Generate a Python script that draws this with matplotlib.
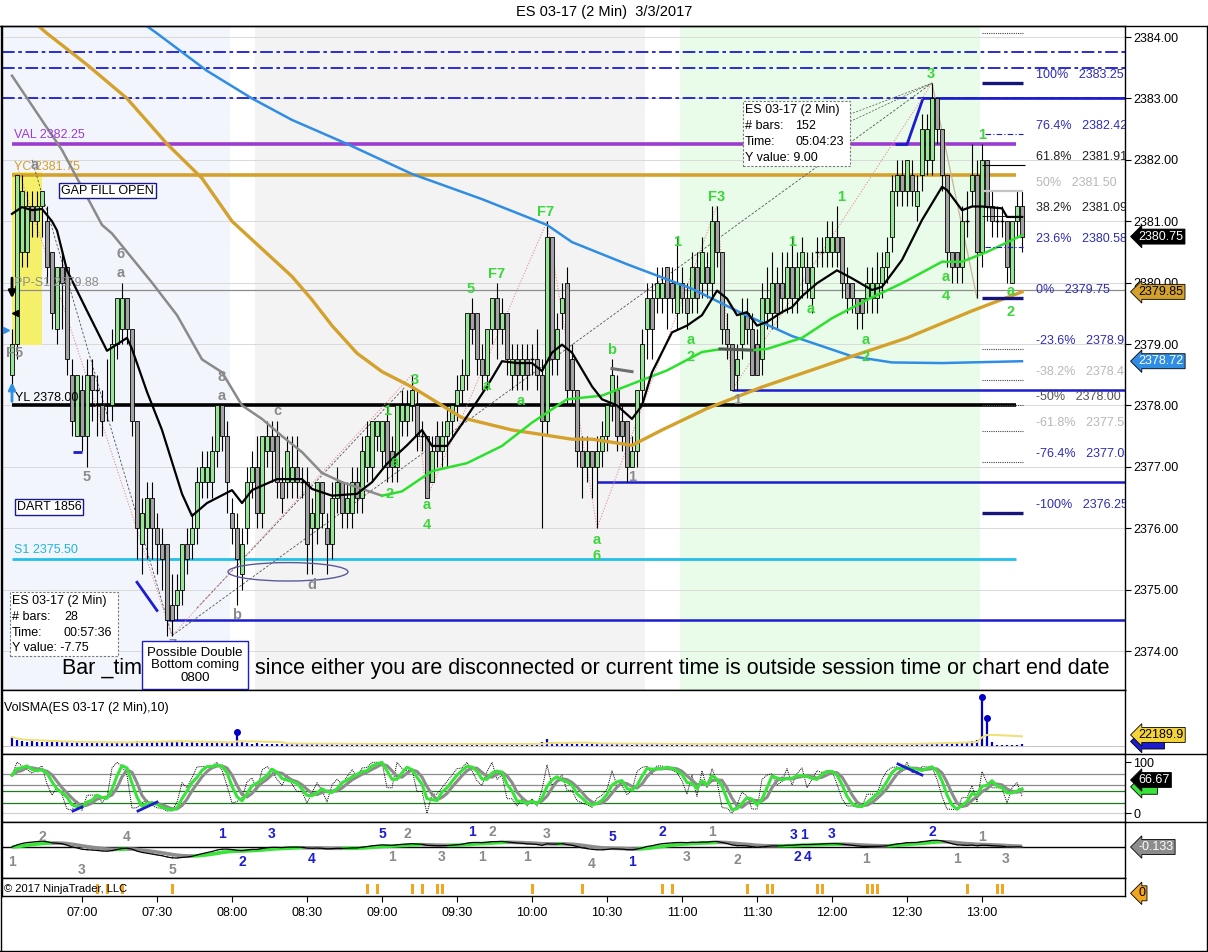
import numpy as np
import pandas as pd
import matplotlib
matplotlib.use("Agg")
import matplotlib.pyplot as plt
import matplotlib.transforms as mtransforms
from matplotlib.patches import Rectangle, Ellipse
from matplotlib.lines import Line2D
from matplotlib.collections import LineCollection

plt.rcParams['font.family'] = ['Liberation Sans', 'DejaVu Sans']

# === ES 03-17, 2 min bars, first bar 06:32, last 13:16 ===
opens = [
    2378.5, 2379.0, 2380.5, 2380.5, 2381.25, 2381.0, 2381.25, 2381.0, 2380.5, 2379.25,
    2380.25, 2380.25, 2378.5, 2377.5, 2378.25, 2377.5, 2378.5, 2378.25, 2378.0, 2378.0,
    2378.0, 2379.0, 2379.25, 2379.75, 2379.25, 2377.75, 2375.75, 2376.0, 2376.5, 2376.0,
    2375.75, 2375.75, 2374.75, 2374.75, 2375.0, 2375.75, 2375.75, 2376.0, 2376.75, 2376.75,
    2376.75, 2377.25, 2378.0, 2377.5, 2376.25, 2376.0, 2375.25, 2376.0, 2376.75, 2377.0,
    2376.25, 2377.25, 2377.5, 2377.5, 2376.75, 2376.75, 2376.75, 2377.0, 2376.75, 2376.75,
    2376.0, 2376.0, 2376.75, 2376.0, 2375.75, 2376.5, 2376.75, 2376.25, 2376.25, 2376.75,
    2376.5, 2377.0, 2377.0, 2377.5, 2377.25, 2377.75, 2377.25, 2377.0, 2377.75, 2377.75,
    2378.0, 2378.0, 2377.5, 2377.5, 2376.75, 2377.5, 2377.25, 2377.5, 2377.75, 2378.0,
    2378.25, 2378.5, 2379.5, 2379.5, 2378.75, 2378.5, 2379.25, 2379.75, 2379.25, 2379.5,
    2378.5, 2378.75, 2378.5, 2378.75, 2378.75, 2378.75, 2378.5, 2377.75, 2380.75, 2378.75,
    2379.5, 2380.0, 2378.75, 2378.25, 2377.25, 2377.0, 2377.25, 2377.0, 2377.25, 2377.5,
    2378.0, 2378.25, 2377.75, 2377.75, 2377.0, 2377.25, 2378.25, 2379.25, 2379.75, 2379.75,
    2379.75, 2380.25, 2380.0, 2379.5, 2380.0, 2379.75, 2379.75, 2380.25, 2380.0, 2380.25,
    2380.0, 2381.0, 2380.5, 2379.25, 2379.0, 2378.5, 2379.0, 2379.5, 2379.25, 2379.0,
    2378.75, 2379.5, 2379.5, 2380.0, 2380.0, 2379.75, 2380.25, 2379.75, 2380.25, 2380.25,
    2379.75, 2380.5, 2380.5, 2380.5, 2380.5, 2380.75, 2380.75, 2380.0, 2380.0, 2379.75,
    2379.75, 2379.75, 2379.75, 2379.75, 2380.0, 2380.25, 2380.75, 2381.5, 2381.75, 2381.5,
    2381.75, 2381.25, 2381.75, 2382.0, 2382.0, 2383.0, 2382.5, 2381.75, 2380.5, 2380.5,
    2380.25, 2381.0, 2381.5, 2381.75, 2380.5, 2382.0, 2381.25, 2381.0, 2381.0, 2381.0,
    2380.0, 2381.0, 2381.25]
highs = [
    2379.25, 2381.75, 2381.75, 2381.5, 2381.5, 2381.5, 2381.5, 2381.25, 2380.5, 2380.25,
    2380.5, 2380.25, 2378.75, 2378.5, 2378.5, 2378.75, 2378.75, 2378.5, 2378.25, 2378.75,
    2379.25, 2379.75, 2380.0, 2379.75, 2379.25, 2377.75, 2376.5, 2376.75, 2376.75, 2376.25,
    2376.0, 2375.75, 2375.25, 2375.25, 2375.75, 2376.0, 2376.25, 2377.0, 2377.25, 2377.25,
    2377.5, 2378.0, 2378.0, 2377.75, 2376.5, 2376.25, 2376.0, 2377.0, 2377.25, 2377.5,
    2377.5, 2377.75, 2377.75, 2377.75, 2377.0, 2377.5, 2377.5, 2377.5, 2377.0, 2377.0,
    2376.5, 2376.75, 2376.75, 2376.25, 2376.75, 2377.0, 2376.75, 2376.75, 2377.0, 2377.0,
    2377.5, 2377.75, 2377.75, 2377.75, 2377.75, 2378.0, 2377.5, 2378.0, 2378.25, 2378.25,
    2378.5, 2378.25, 2377.75, 2377.5, 2377.5, 2377.75, 2377.75, 2378.0, 2378.0, 2378.5,
    2378.75, 2379.5, 2379.75, 2379.5, 2379.0, 2379.25, 2379.75, 2380.0, 2379.75, 2379.5,
    2379.0, 2379.0, 2379.0, 2379.0, 2379.0, 2379.25, 2378.75, 2381.0, 2380.75, 2379.5,
    2380.0, 2380.25, 2379.0, 2378.25, 2377.5, 2377.5, 2377.25, 2377.5, 2377.75, 2378.0,
    2378.75, 2378.5, 2378.0, 2377.75, 2377.5, 2378.25, 2379.25, 2380.0, 2380.0, 2380.25,
    2380.25, 2380.25, 2380.25, 2380.75, 2380.25, 2380.0, 2380.5, 2380.5, 2380.75, 2380.5,
    2381.25, 2381.25, 2380.5, 2379.5, 2379.0, 2379.0, 2379.75, 2379.75, 2379.5, 2379.25,
    2380.0, 2380.25, 2380.5, 2380.25, 2380.5, 2380.5, 2380.75, 2380.5, 2380.75, 2380.5,
    2380.5, 2380.75, 2380.75, 2381.0, 2381.0, 2381.25, 2380.75, 2380.25, 2380.0, 2379.75,
    2379.75, 2380.25, 2380.25, 2380.5, 2380.5, 2380.75, 2381.75, 2382.0, 2382.0, 2382.0,
    2382.0, 2381.75, 2382.75, 2382.75, 2383.25, 2383.0, 2382.5, 2381.75, 2380.5, 2380.5,
    2381.25, 2381.5, 2382.25, 2382.0, 2382.25, 2382.0, 2381.5, 2381.25, 2381.25, 2381.0,
    2381.0, 2381.5, 2381.5]
lows = [
    2378.25, 2378.75, 2380.25, 2380.25, 2380.75, 2380.75, 2380.75, 2380.0, 2379.25, 2379.0,
    2379.25, 2378.5, 2377.5, 2377.5, 2377.25, 2377.0, 2377.75, 2377.5, 2377.5, 2377.75,
    2377.75, 2378.75, 2379.0, 2379.0, 2377.5, 2375.5, 2375.25, 2375.5, 2375.5, 2375.25,
    2375.0, 2374.25, 2374.25, 2374.5, 2374.75, 2375.25, 2375.5, 2375.75, 2376.5, 2376.5,
    2376.5, 2377.0, 2377.25, 2376.25, 2375.75, 2374.75, 2375.0, 2375.75, 2376.5, 2376.0,
    2376.0, 2377.0, 2376.75, 2376.5, 2376.25, 2376.5, 2376.5, 2376.5, 2376.5, 2375.25,
    2375.25, 2375.75, 2376.0, 2375.25, 2375.5, 2376.25, 2376.0, 2376.0, 2376.0, 2376.25,
    2376.25, 2376.75, 2376.75, 2377.25, 2377.0, 2376.75, 2376.75, 2376.75, 2377.5, 2377.5,
    2377.75, 2377.25, 2377.25, 2376.5, 2376.75, 2377.0, 2377.0, 2377.0, 2377.5, 2377.75,
    2378.0, 2378.25, 2379.0, 2378.5, 2378.25, 2378.25, 2379.0, 2378.75, 2379.0, 2378.5,
    2378.25, 2378.25, 2378.25, 2378.25, 2378.5, 2378.25, 2376.0, 2377.5, 2378.5, 2378.5,
    2379.25, 2378.0, 2378.0, 2377.0, 2376.5, 2376.75, 2376.5, 2376.0, 2377.0, 2377.25,
    2377.75, 2377.25, 2377.25, 2376.75, 2377.0, 2377.0, 2378.0, 2378.75, 2378.75, 2379.5,
    2379.5, 2379.25, 2379.5, 2379.25, 2379.5, 2379.25, 2379.5, 2379.5, 2379.75, 2379.75,
    2379.75, 2380.25, 2379.0, 2378.75, 2378.25, 2378.25, 2378.75, 2379.0, 2378.5, 2378.5,
    2378.5, 2379.25, 2379.25, 2379.25, 2379.5, 2379.5, 2379.5, 2379.5, 2379.75, 2379.75,
    2379.5, 2380.25, 2380.25, 2380.25, 2380.25, 2380.25, 2379.75, 2379.5, 2379.5, 2379.25,
    2379.25, 2379.5, 2379.5, 2379.5, 2379.75, 2380.0, 2380.5, 2381.25, 2381.25, 2381.25,
    2381.25, 2381.0, 2381.5, 2381.75, 2381.75, 2382.25, 2381.5, 2380.25, 2380.0, 2380.0,
    2380.0, 2380.75, 2381.25, 2379.75, 2380.25, 2381.0, 2380.75, 2380.75, 2380.75, 2380.0,
    2380.0, 2380.75, 2380.5]
closes = [
    2379.0, 2381.75, 2381.5, 2381.25, 2381.0, 2381.25, 2381.5, 2380.25, 2379.5, 2380.25,
    2380.0, 2378.75, 2377.75, 2378.5, 2377.5, 2378.5, 2378.25, 2378.25, 2377.75, 2378.0,
    2379.0, 2379.75, 2379.75, 2379.25, 2377.75, 2376.0, 2376.25, 2376.5, 2376.0, 2375.75,
    2375.5, 2374.5, 2374.5, 2375.0, 2375.75, 2375.5, 2376.0, 2376.75, 2377.0, 2377.0,
    2377.25, 2378.0, 2377.5, 2376.75, 2376.0, 2375.5, 2375.75, 2376.75, 2377.0, 2376.25,
    2377.5, 2377.5, 2377.25, 2376.75, 2376.5, 2377.25, 2377.0, 2376.75, 2376.75, 2375.75,
    2376.25, 2376.75, 2376.25, 2375.75, 2376.5, 2376.75, 2376.25, 2376.5, 2376.75, 2376.5,
    2377.25, 2377.5, 2377.75, 2377.75, 2377.75, 2377.0, 2377.0, 2378.0, 2378.0, 2378.0,
    2378.25, 2377.5, 2377.5, 2376.5, 2377.25, 2377.25, 2377.5, 2377.75, 2378.0, 2378.25,
    2378.5, 2379.5, 2379.25, 2378.75, 2378.5, 2379.25, 2379.75, 2379.25, 2379.5, 2378.75,
    2378.75, 2378.5, 2378.75, 2378.5, 2378.75, 2378.5, 2377.75, 2380.75, 2378.75, 2379.25,
    2379.75, 2378.25, 2378.25, 2377.25, 2377.0, 2377.25, 2377.0, 2377.25, 2377.5, 2378.0,
    2378.5, 2377.5, 2377.5, 2377.0, 2377.25, 2378.25, 2379.0, 2379.75, 2379.25, 2380.0,
    2380.0, 2379.75, 2379.75, 2380.0, 2379.75, 2379.5, 2380.25, 2379.75, 2380.5, 2380.0,
    2381.0, 2380.5, 2379.25, 2379.0, 2378.25, 2378.75, 2379.5, 2379.25, 2378.5, 2378.5,
    2379.75, 2379.75, 2380.0, 2379.5, 2379.75, 2380.25, 2379.75, 2380.25, 2380.5, 2380.0,
    2380.25, 2380.5, 2380.5, 2380.75, 2380.75, 2380.5, 2380.0, 2379.75, 2379.75, 2379.5,
    2379.5, 2380.0, 2380.0, 2380.0, 2380.25, 2380.5, 2381.5, 2381.75, 2381.5, 2382.0,
    2381.5, 2381.5, 2382.5, 2382.5, 2383.0, 2382.5, 2381.75, 2380.5, 2380.25, 2380.25,
    2381.0, 2381.0, 2381.75, 2380.5, 2382.0, 2381.25, 2381.0, 2381.0, 2381.0, 2380.25,
    2381.0, 2381.25, 2380.75]
# volume in thousands of contracts
volume_k = [
    18, 12, 10, 9, 10, 8, 9, 8, 9, 8,
    8, 9, 7, 8, 7, 8, 7, 6, 8, 7,
    7, 8, 7, 6, 9, 10, 11, 9, 8, 9,
    10, 9, 11, 8, 9, 7, 8, 6, 7, 8,
    7, 8, 7, 6, 8, 28, 8, 6, 5, 6,
    5, 4, 5, 4, 5, 4, 4, 5, 4, 5,
    5, 4, 4, 5, 4, 3, 4, 5, 4, 4,
    4, 5, 4, 3, 4, 5, 4, 4, 5, 4,
    4, 3, 4, 4, 5, 4, 3, 4, 4, 5,
    4, 5, 4, 4, 3, 4, 5, 4, 4, 4,
    3, 4, 4, 3, 4, 5, 9, 14, 8, 6,
    5, 6, 5, 5, 4, 5, 4, 6, 5, 4,
    4, 5, 4, 4, 3, 5, 5, 6, 4, 4,
    4, 3, 4, 4, 3, 4, 4, 3, 4, 4,
    5, 4, 4, 3, 4, 3, 4, 3, 4, 3,
    4, 4, 3, 4, 3, 4, 3, 4, 3, 4,
    3, 4, 3, 4, 3, 4, 4, 3, 4, 3,
    4, 3, 4, 3, 4, 3, 4, 5, 4, 5,
    4, 5, 6, 7, 6, 7, 6, 7, 8, 7,
    8, 9, 10, 12, 98, 56, 8, 3, 3, 3,
    3, 3, 4]

# moving averages (bar index, price)
black_bar = [0, 2, 4, 6, 8, 9, 11, 15, 19, 23, 24, 27, 30, 34, 36, 39, 44, 46, 48, 53,
             56, 58, 60, 64, 69, 72, 75, 79, 82, 84, 87, 91, 95, 98, 101, 104, 106, 108,
             110, 112, 116, 118, 121, 124, 126, 128, 132, 135, 138, 141, 143, 145, 147,
             149, 151, 154, 156, 158, 161, 165, 168, 172, 174, 178, 182, 186, 187, 190,
             192, 194, 198, 199, 202]
black_px = [2381.12, 2381.23, 2381.18, 2381.2, 2381.0, 2380.85, 2380.2, 2379.54, 2378.89,
            2379.1, 2378.92, 2378.22, 2377.6, 2376.56, 2376.2, 2376.41, 2376.62, 2376.41,
            2376.62, 2376.8, 2376.8, 2376.8, 2376.64, 2376.53, 2376.56, 2376.75, 2377.05,
            2377.35, 2377.6, 2377.34, 2377.34, 2377.82, 2378.31, 2378.72, 2378.69, 2378.69,
            2378.56, 2378.86, 2378.99, 2378.86, 2378.31, 2378.1, 2378.0, 2377.78, 2378.0,
            2378.54, 2379.19, 2379.3, 2379.47, 2379.87, 2379.74, 2379.47, 2379.52, 2379.3,
            2379.36, 2379.52, 2379.6, 2379.78, 2379.99, 2380.2, 2380.07, 2379.88, 2379.93,
            2380.37, 2381.02, 2381.56, 2381.51, 2381.18, 2381.24, 2381.24, 2381.21, 2381.07,
            2381.07]
gray_ma_bar = [0, 8, 10, 18, 20, 28, 33, 38, 42, 46, 50, 54, 58, 62, 66, 70, 74]
gray_ma_px = [2383.37, 2382.4, 2382.16, 2380.94, 2380.8, 2380.0, 2379.47, 2378.75, 2378.54,
              2378.0, 2377.78, 2377.5, 2377.24, 2376.9, 2376.75, 2376.64, 2376.53]
green_ma_bar = [74, 78, 84, 91, 98, 104, 111, 118, 124, 131, 138, 142, 148, 151, 158, 164,
                171, 178, 186, 190, 195, 202]
green_ma_px = [2376.53, 2376.6, 2376.93, 2377.06, 2377.34, 2377.72, 2378.1, 2378.16, 2378.35,
               2378.57, 2378.87, 2378.92, 2378.9, 2378.92, 2379.1, 2379.42, 2379.72, 2379.99,
               2380.34, 2380.34, 2380.5, 2380.77]
orange_bar = [0, 7, 15, 23, 31, 38, 44, 50, 56, 60, 64, 69, 74, 80, 90, 100, 112, 116, 124,
              130, 139, 150, 168, 179, 192, 202]
orange_px = [2384.55, 2384.06, 2383.55, 2383.0, 2382.26, 2381.7, 2381.0, 2380.55, 2380.1,
             2379.72, 2379.3, 2378.85, 2378.55, 2378.3, 2377.8, 2377.6, 2377.45, 2377.45,
             2377.35, 2377.6, 2377.95, 2378.3, 2378.8, 2379.1, 2379.54, 2379.85]
blue_bar = [18, 29, 39, 48, 56, 67, 80, 94, 107, 112, 123, 136, 146, 156, 168, 176, 186, 202]
blue_px = [2384.7, 2384.06, 2383.45, 2383.0, 2382.65, 2382.26, 2381.77, 2381.36, 2380.94,
           2380.66, 2380.3, 2379.9, 2379.5, 2379.13, 2378.8, 2378.7, 2378.69, 2378.72]

# fib retracement on the right
fib_pct = ['100%', '76.4%', '61.8%', '50%', '38.2%', '23.6%', '0%', '-23.6%', '-38.2%',
           '-50%', '-61.8%', '-76.4%', '-100%']
fib_val = [2383.25, 2382.42, 2381.91, 2381.50, 2381.09, 2380.58, 2379.75, 2378.92, 2378.41,
           2378.00, 2377.59, 2377.08, 2376.25]

tick_bars = [14, 29, 44, 59, 74, 89, 104, 119, 134, 149, 164, 179, 194]
tick_labels = ['07:00', '07:30', '08:00', '08:30', '09:00', '09:30', '10:00', '10:30',
               '11:00', '11:30', '12:00', '12:30', '13:00']
signal_bars = [17, 19, 22, 32, 71, 73, 80, 82, 85, 86, 104, 114, 130, 132, 147, 151, 152,
               161, 162, 171, 172, 173, 191, 197, 198]

o = np.array(opens); h = np.array(highs); l = np.array(lows); c = np.array(closes)
n = len(c)
idx = np.arange(n)

# === figure layout, pixel based ===
W, H = 1208, 952
fig = plt.figure(figsize=(W / 100, H / 100), dpi=100)
def fx(px): return px / W
def fy(py): return 1 - py / H
LEFT, RIGHT = 2, 1125
def panel(top, bottom):
    a = fig.add_axes([fx(LEFT), fy(bottom), fx(RIGHT) - fx(LEFT), fy(top) - fy(bottom)])
    a.set_xlim(-2, 222.6)
    a.tick_params(left=False, bottom=False, labelleft=False, labelbottom=False)
    for s in a.spines.values():
        s.set_linewidth(1.0)
    return a

ax = panel(26, 690)
axv = panel(690, 754)
axs = panel(754, 822)
axm = panel(822, 878)
axo = panel(878, 896)

fig.text(0.5, fy(12), 'ES 03-17 (2 Min)  3/3/2017', ha='center', va='center', fontsize=10.5)

GREEN_TXT = '#3ad63a'
GRAY_TXT = '#8a8a8a'
BLUE = '#1c1cd0'
HIDDEN = '       '   # flag partly covered by the one drawn on top of it

# === main price panel ===
ax.set_ylim(2373.365, 2384.18)
ax.axvspan(-2, 43.6, color='#f2f5fc', zorder=0, lw=0)
ax.axvspan(48.6, 126.6, color='#f3f3f3', zorder=0, lw=0)
ax.axvspan(133.6, 193.6, color='#e9fbe9', zorder=0, lw=0)
for v in range(2374, 2385):
    ax.axhline(v, color='#d9d9d9', lw=0.7, zorder=0.5)
ax.add_patch(Rectangle((0, 2378.98), 6, 2381.80 - 2378.98, fc='#f5f06a', ec='none', zorder=1))

for v in [2383.76, 2383.5, 2383.0]:
    ax.axhline(v, color=BLUE, lw=1.3, ls=(0, (7, 2, 2, 2)), zorder=2)
ax.hlines(2382.25, 0, 200.8, color='#9a3ccf', lw=2.6, zorder=2)
ax.hlines(2381.75, 0, 200.8, color='#d4a22c', lw=2.6, zorder=2)
ax.axhline(2379.88, color='#8c8c8c', lw=0.9, zorder=2)
ax.hlines(2378.0, 0, 200.8, color='black', lw=2.6, zorder=2)
ax.hlines(2375.5, 0, 200.8, color='#22c0ea', lw=2.0, zorder=2)
ax.hlines(2374.5, 31.2, 222.6, color=BLUE, lw=1.8, zorder=2)
ax.hlines(2376.75, 117, 222.6, color=BLUE, lw=1.8, zorder=2)
ax.hlines(2378.25, 144, 222.6, color=BLUE, lw=1.8, zorder=2)
ax.plot([177, 179, 182.2, 222.6], [2382.25, 2382.25, 2383.0, 2383.0], color=BLUE, lw=2.0, zorder=2)

ax.text(0.4, 2382.40, 'VAL 2382.25', color='#9a3ccf', fontsize=9, va='center', zorder=6)
ax.text(0.4, 2381.88, 'YC 2381.75', color='#d4a22c', fontsize=9, va='center', zorder=3.5)
ax.text(0.4, 2380.00, 'PP-S1 2379.88', color='#8c8c8c', fontsize=9, va='center', zorder=6)
ax.text(0.6, 2378.12, 'YL 2378.00', color='black', fontsize=9, va='center', zorder=6)
ax.text(0.4, 2375.64, 'S1 2375.50', color='#22b5e0', fontsize=9, va='center', zorder=6)
ax.text(19.1, 2381.5, 'GAP FILL OPEN', fontsize=9, ha='center', va='center', zorder=6,
        bbox=dict(boxstyle='square,pad=0.15', fc='white', ec='#1a1a90', lw=1))
ax.text(7.4, 2376.34, 'DART 1856', fontsize=9, ha='center', va='center', zorder=6,
        bbox=dict(boxstyle='square,pad=0.15', fc='white', ec='#1a1a90', lw=1))

# measuring / wave lines
ax.plot([4, 32], [2382.0, 2374.25], color='#555555', lw=0.6, ls=(0, (3, 2)), zorder=2.5)
ax.plot([32, 184], [2374.25, 2383.25], color='#555555', lw=0.6, ls=(0, (3, 2)), zorder=2.5)
ax.plot([37, 78.6], [2374.7, 2378.3], color='#555555', lw=0.6, ls=(0, (3, 2)), zorder=2.5)
pink_bar = [1, 32, 80, 83, 107, 117, 141, 144, 184]
pink_px = [2381.9, 2374.25, 2378.5, 2376.5, 2381.0, 2376.0, 2381.25, 2378.25, 2383.25]
ax.plot(pink_bar, pink_px, color='#e79090', lw=0.8, ls=(0, (1, 1.5)), zorder=2.5)
ax.plot([184, 193], [2383.25, 2379.75], color='#c9b39a', lw=0.9, zorder=2.5)
ax.plot([150, 184], [2382.2, 2383.25], color='#555555', lw=0.5, ls=(0, (3, 2)), zorder=2.5)
ax.plot([150, 184], [2381.95, 2383.25], color='#555555', lw=0.5, ls=(0, (3, 2)), zorder=2.5)

# candles
ax.vlines(idx, l, h, color='black', lw=0.8, zorder=3)
up = c > o
dn = c < o
fl = c == o
ax.bar(idx[up], (c - o)[up], bottom=o[up], width=0.8, color='#97e497', edgecolor='black',
       linewidth=0.6, zorder=4)
ax.bar(idx[dn], (o - c)[dn], bottom=c[dn], width=0.8, color='#a2a2a2', edgecolor='black',
       linewidth=0.6, zorder=4)
ax.hlines(c[fl], idx[fl] - 0.45, idx[fl] + 0.45, color='black', lw=1.0, zorder=4)

# moving averages
ax.plot(blue_bar, blue_px, color='#2f8de4', lw=1.8, zorder=5)
ax.plot(orange_bar, orange_px, color='#d4a22c', lw=2.4, zorder=5)
ax.plot(gray_ma_bar, gray_ma_px, color='#8a8a8a', lw=1.8, zorder=5)
ax.plot(green_ma_bar, green_ma_px, color='#2ee02e', lw=1.8, zorder=5)
ax.plot(black_bar, black_px, color='black', lw=1.6, zorder=5)
ax.plot([120, 124], [2378.6, 2378.55], color='#707070', lw=2.2, zorder=5)
ax.plot([141.6, 148], [2378.92, 2378.9], color='#555555', lw=2.2, zorder=5)
ax.hlines(2377.24, 12.2, 14, color=BLUE, lw=2, zorder=5)
ax.plot([25, 29], [2375.12, 2374.66], color=BLUE, lw=2, zorder=5)

# markers at the open
ax.annotate('', xy=(0, 2379.7), xytext=(0, 2380.12),
            arrowprops=dict(arrowstyle='-|>', color='black', lw=2, mutation_scale=10), zorder=6)
ax.annotate('', xy=(0, 2378.42), xytext=(0, 2378.02),
            arrowprops=dict(arrowstyle='-|>', color='#2f8de4', lw=2, mutation_scale=10), zorder=6)
ax.plot([0.6], [2379.5], marker='<', color='black', ms=4, zorder=6)
ax.plot([-1.2], [2379.23], marker='>', color='#2f8de4', ms=5, zorder=6, clip_on=False)

ax.add_patch(Ellipse((55.2, 2375.29), 24, 0.3, fill=False, ec='#5a5a9a', lw=1, zorder=6))

# wave labels
gray_labels = [('F5', 0.6, 2378.85), ('a', 4.6, 2381.92), ('6', 21.8, 2380.47), ('a', 21.8, 2380.16),
               ('5', 15, 2376.83), ('8', 42, 2378.46), ('a', 42, 2378.15), ('c', 53, 2377.91),
               ('b', 45, 2374.59), ('d', 60, 2375.08), ('7', 32, 2374.1), ('1', 124, 2376.83),
               ('1', 145, 2378.09)]
for t, xb, yp in gray_labels:
    ax.text(xb, yp, t, color=GRAY_TXT, fontsize=10.5, fontweight='bold', ha='center',
            va='center', zorder=6)
green_labels = [('1', 75, 2377.91), ('3', 80.6, 2378.41), ('a', 76.6, 2377.08), ('2', 75.6, 2376.56),
                ('a', 83, 2376.38), ('4', 83, 2376.05), ('5', 91.8, 2379.9), ('F7', 97, 2380.14),
                ('a', 95, 2378.32), ('a', 101.8, 2378.07), ('F7', 106.8, 2381.15),
                ('b', 120, 2378.9), ('a', 117, 2375.81), ('6', 117, 2375.55), ('1', 133, 2380.66),
                ('F3', 141, 2381.39), ('a', 135.8, 2379.07), ('2', 135.8, 2378.79),
                ('1', 156, 2380.66), ('a', 159.8, 2379.57), ('1', 165.8, 2381.39),
                ('a', 170.8, 2379.07), ('2', 170.8, 2378.79), ('3', 183.8, 2383.4),
                ('a', 186.8, 2380.09), ('4', 186.8, 2379.78), ('1', 194, 2382.4),
                ('a', 199.8, 2379.86), ('2', 199.8, 2379.52)]
for t, xb, yp in green_labels:
    ax.text(xb, yp, t, color=GREEN_TXT, fontsize=10.5, fontweight='bold', ha='center',
            va='center', zorder=6)

# fib levels
fib_color = {'100%': '#2d2db4', '76.4%': '#2d2db4', '61.8%': '#222222', '50%': '#b8b8b8',
             '38.2%': '#222222', '23.6%': '#2d2db4', '0%': '#2d2db4', '-23.6%': '#2d2db4',
             '-38.2%': '#b8b8b8', '-50%': '#555555', '-61.8%': '#b8b8b8', '-76.4%': '#2d2db4',
             '-100%': '#2d2db4'}
for p, v in zip(fib_pct, fib_val):
    if p in ('100%', '0%', '-100%'):
        ax.hlines(v, 194, 202.2, color='#14147a', lw=2.4, zorder=5)
    elif p in ('76.4%', '23.6%'):
        ax.hlines(v, 194.6, 202.2, color=BLUE, lw=0.8, ls=(0, (5, 2, 1, 2)), zorder=5)
    elif p == '61.8%':
        ax.hlines(v, 194, 202.6, color='black', lw=0.8, zorder=5)
    elif p == '50%':
        ax.hlines(v, 194, 202.2, color='#c4c4c4', lw=1.6, zorder=5)
    elif p == '38.2%':
        ax.hlines(v, 194, 202.2, color='black', lw=0.6, zorder=5)
    else:
        ax.hlines(v, 194, 202.2, color='#444444', lw=0.8, ls=(0, (1, 1)), zorder=5)
    ax.text(204.8, v + 0.13, f'{p}   {v:.2f}', color=fib_color[p], fontsize=9, va='center',
            ha='left', zorder=6, clip_on=True)
ax.hlines(2384.07, 194, 202.2, color='#444444', lw=0.8, ls=(0, (1, 1)), zorder=5)

# info boxes
ax.add_patch(Rectangle((-0.4, 2373.92), 21.6, 1.04, fc='white', ec='#777777', lw=0.8,
                       ls=(0, (2, 1.5)), zorder=6))
for r, (a1, a2) in enumerate([('ES 03-17 (2 Min)', ''), ('# bars:', '28'), ('Time:', '00:57:36'),
                               ('Y value: -7.75', '')]):
    yy = 2374.81 - 0.255 * r
    ax.text(0.0, yy, a1, fontsize=9, va='center', zorder=7)
    ax.text(10.4, yy, a2, fontsize=9, va='center', zorder=7)
ax.add_patch(Rectangle((146.2, 2381.90), 21.4, 1.06, fc='white', ec='#777777', lw=0.8,
                       ls=(0, (2, 1.5)), zorder=6))
for r, (a1, a2) in enumerate([('ES 03-17 (2 Min)', ''), ('# bars:', '152'), ('Time:', '05:04:23'),
                               ('Y value: 9.00', '')]):
    yy = 2382.81 - 0.26 * r
    ax.text(146.6, yy, a1, fontsize=9, va='center', zorder=7)
    ax.text(156.6, yy, a2, fontsize=9, va='center', zorder=7)

ax.text(10, 2373.72, 'Bar _tim', fontsize=15.5, va='center', zorder=7)
ax.text(48.6, 2373.72,
        'since either you are disconnected or current time is outside session time or chart end date',
        fontsize=15.5, va='center', zorder=7)
ax.text(36.6, 2374.07, 'Possible Double\nBottom coming\n0800', fontsize=9.5, ha='center', va='top',
        linespacing=1.05, zorder=8, clip_on=True,
        bbox=dict(boxstyle='square,pad=0.4', fc='white', ec=BLUE, lw=1))

ax.yaxis.tick_right()
ax.tick_params(axis='y', right=True, labelright=True, length=4, width=0.8, labelsize=9, pad=2)
ax.set_yticks(range(2374, 2385))
ax.set_yticklabels([f'{v:.2f}' for v in range(2374, 2385)])
bl = mtransforms.blended_transform_factory(ax.transAxes, ax.transData)
for val, txt, bg, fg in [(2380.75, '2380.75', 'black', 'white'), (2379.85, '2379.85', '#d4a22c', 'black'),
                         (2378.72, '2378.72', '#2f8de4', 'white')]:
    ax.text(1.012, val, txt, transform=bl, fontsize=9, color=fg, va='center', ha='left', zorder=9,
            clip_on=False, bbox=dict(boxstyle='larrow,pad=0.12', fc=bg, ec='black', lw=0.6))

# === volume panel ===
vol = np.array(volume_k, dtype=float)
volsma = pd.Series(vol).rolling(10, min_periods=1).mean()
axv.set_ylim(-16, 112)
axv.axhline(0, color='#c8c8c8', lw=0.8)
axv.vlines(idx, 0, vol, color='#0000c8', lw=1.6)
axv.plot(idx, volsma, color='#efe07a', lw=1.5)
big = [45, 194, 195]
axv.plot(big, vol[big], 'o', color='#0000c8', ms=4)
axv.text(2 / 1123, 0.72, 'VolSMA(ES 03-17 (2 Min),10)', transform=axv.transAxes, fontsize=9,
         va='center')
blv = mtransforms.blended_transform_factory(axv.transAxes, axv.transData)
axv.text(1.012, 9.0, HIDDEN, transform=blv, fontsize=9, va='center', ha='left',
         clip_on=False, bbox=dict(boxstyle='larrow,pad=0.12', fc='#1c1cd0', ec='black', lw=0.6))
axv.text(1.012, 22.19, '22189.9', transform=blv, fontsize=9, color='black', va='center', ha='left',
         clip_on=False, bbox=dict(boxstyle='larrow,pad=0.12', fc='#f5d33a', ec='black', lw=0.6))

# === stochastics panel ===
cs = pd.Series(c)
hh = pd.Series(h).rolling(9, min_periods=1).max()
ll = pd.Series(l).rolling(9, min_periods=1).min()
fastk = (100 * (cs - ll) / (hh - ll)).fillna(50)
k_line = fastk.rolling(3, min_periods=1).mean()
d_line = k_line.rolling(3, min_periods=1).mean()
axs.set_ylim(-17.1, 116.3)
for v, col in [(77, '#8c8c8c'), (56, '#8c8c8c'), (44, '#1f7a1f'), (20, '#1f7a1f'), (0, '#d0d0d0')]:
    axs.axhline(v, color=col, lw=0.9)
axs.plot(idx, fastk, color='black', lw=0.7, ls=(0, (1, 1)))
axs.plot(idx, d_line, color='#8c8c8c', lw=2.2)
axs.plot(idx, k_line, color='#39e339', lw=2.2)
axs.plot([12.2, 14], [4.5, 12.4], color=BLUE, lw=2)
axs.plot([25.2, 29], [4.5, 22], color=BLUE, lw=2)
axs.plot([177.2, 182], [96.7, 75], color=BLUE, lw=2)
axs.yaxis.tick_right()
axs.tick_params(axis='y', right=True, labelright=True, length=4, width=0.8, labelsize=9, pad=2)
axs.set_yticks([0, 100])
axs.set_yticklabels(['0', '100'])
bls = mtransforms.blended_transform_factory(axs.transAxes, axs.transData)
axs.text(1.012, 52, HIDDEN[:5], transform=bls, fontsize=9, va='center', ha='left',
         clip_on=False, bbox=dict(boxstyle='larrow,pad=0.12', fc='#39e339', ec='black', lw=0.6))
axs.text(1.012, 65.3, '66.67', transform=bls, fontsize=9, color='white', va='center', ha='left',
         clip_on=False, bbox=dict(boxstyle='larrow,pad=0.12', fc='black', ec='black', lw=0.6))

# === MACD panel ===
ema12 = cs.ewm(span=12, adjust=False).mean()
ema26 = cs.ewm(span=26, adjust=False).mean()
macd = (ema12 - ema26).values
sig = pd.Series(macd).ewm(span=9, adjust=False).mean().values
unit = np.abs(macd).max() / 11.0
axm.set_ylim(-31 * unit, 25 * unit)
axm.axhline(0, color='black', lw=1.0)
hcol = np.where(macd > sig, '#39e339', '#8c8c8c')
axm.vlines(idx, sig, macd, colors=hcol, lw=1.0)
pts = np.column_stack([idx, sig])
segs = np.stack([pts[:-1], pts[1:]], axis=1)
scol = np.where(np.diff(sig) >= 0, '#39e339', '#8c8c8c')
axm.add_collection(LineCollection(segs, colors=scol, linewidths=2.6))
axm.plot(idx, macd, color='black', lw=0.9)
macd_lab_bar = [0, 6, 14, 23, 32, 42, 46, 52, 60, 74, 76, 79, 86, 92, 94, 96, 103, 107, 116, 120,
                124, 130, 135, 140, 145, 156.4, 158.4, 164, 157, 159.2, 170.8, 184, 189, 194, 198.8]
macd_lab_y = [0.286, 0.732, 0.143, 0.732, 0.143, 0.786, 0.286, 0.786, 0.339, 0.786, 0.375, 0.786,
              0.375, 0.821, 0.375, 0.821, 0.375, 0.786, 0.25, 0.732, 0.286, 0.821, 0.375, 0.821,
              0.321, 0.768, 0.768, 0.786, 0.375, 0.375, 0.339, 0.821, 0.339, 0.732, 0.339]
macd_lab_txt = '12345123451231121345123123132412113'
macd_lab_blue = [0, 0, 0, 0, 0, 1, 1, 1, 1, 1, 0, 0, 0, 1, 0, 0, 0, 0, 0, 1,
                 1, 1, 0, 0, 0, 1, 1, 1, 1, 1, 0, 1, 0, 0, 0]
blm = mtransforms.blended_transform_factory(axm.transData, axm.transAxes)
for xb, yf, t, isb in zip(macd_lab_bar, macd_lab_y, macd_lab_txt, macd_lab_blue):
    axm.text(xb, yf, t, transform=blm, fontsize=10, fontweight='bold', ha='center', va='center',
             color=BLUE if isb else GRAY_TXT)
blm2 = mtransforms.blended_transform_factory(axm.transAxes, axm.transData)
axm.text(1.012, macd[-1], '-0.133', transform=blm2, fontsize=9, color='white', va='center',
         ha='left', clip_on=False, bbox=dict(boxstyle='larrow,pad=0.12', fc='#8c8c8c', ec='black', lw=0.6))

# === signal strip + time axis ===
axo.set_ylim(0, 1)
axo.bar(signal_bars, 0.56, bottom=0.11, width=0.6, color='#f2a51f')
axo.text(2 / 1123, 0.39, '\u00a9 2017 NinjaTrader, LLC', transform=axo.transAxes, fontsize=8,
         va='center')
axo.text(1.012, 0.15, '0', transform=axo.transAxes, fontsize=9, color='black', va='center',
         ha='left', clip_on=False, bbox=dict(boxstyle='larrow,pad=0.12', fc='#f2a51f', ec='black', lw=0.6))
axo.set_xticks(tick_bars)
axo.set_xticklabels(tick_labels)
axo.tick_params(axis='x', bottom=True, labelbottom=True, length=4, width=0.8, labelsize=9, pad=4)

# frame lines
for (x0, y0, x1, y1) in [(0, 26, 1207, 26), (1207, 26, 1207, 951), (1, 26, 1, 951),
                         (0, 951, 1207, 951), (1125, 754, 1207, 754), (1125, 822, 1207, 822)]:
    fig.add_artist(Line2D([fx(x0), fx(x1)], [fy(y0), fy(y1)], color='black', lw=1.0))

fig.savefig('out.png', dpi=100)
